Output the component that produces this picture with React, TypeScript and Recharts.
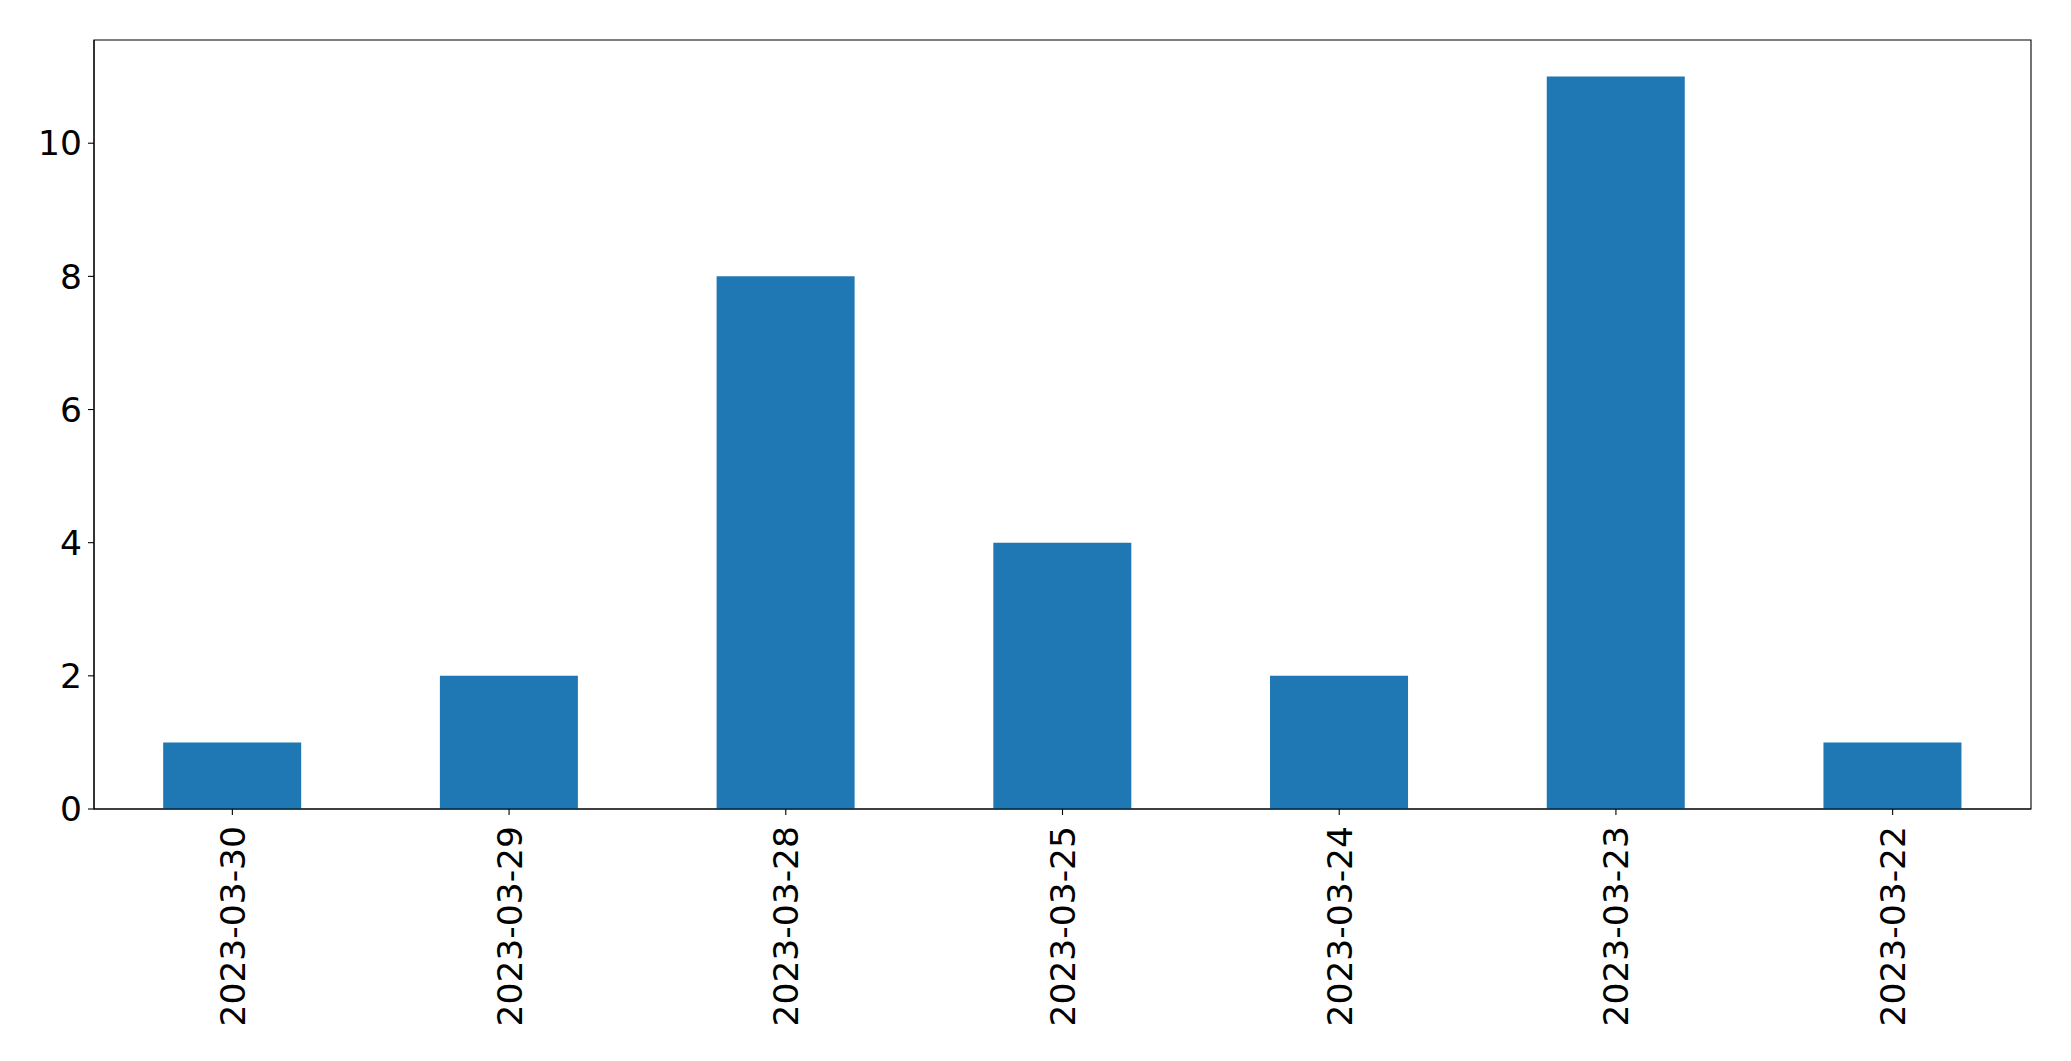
import React from "react";
import { BarChart, Bar, XAxis, YAxis, ReferenceArea } from "recharts";

// ─── Data ─────────────────────────────────────────────────────────────────────

const dates = [
  "2023-03-30",
  "2023-03-29",
  "2023-03-28",
  "2023-03-25",
  "2023-03-24",
  "2023-03-23",
  "2023-03-22",
];
const counts = [1, 2, 8, 4, 2, 11, 1];
const yTicks = [0, 2, 4, 6, 8, 10];
const yMax = 11.55;

const data = dates.map((d, i) => ({ date: d, count: counts[i] }));

const FONT = "'DejaVu Sans', sans-serif";
const FS = 34.5;

// ─── Rotated date tick ────────────────────────────────────────────────────────

function DateTick({ x, y, payload }: any) {
  return (
    <g transform={`translate(${x + 12.5},${y + 9}) rotate(-90)`}>
      <text x={0} y={0} textAnchor="end" fill="#000" fontSize={FS} fontFamily={FONT}>
        {payload.value}
      </text>
    </g>
  );
}

export default function App() {
  return (
    <div style={{ position: "absolute", left: 0, top: 0, background: "#fff" }}>
      <BarChart
        width={2071}
        height={1061}
        data={data}
        margin={{ top: 40, right: 40, left: 0, bottom: 0 }}
        barCategoryGap="25%"
      >
        <XAxis
          dataKey="date"
          height={252}
          interval={0}
          stroke="#000"
          tickSize={6}
          tickMargin={2}
          axisLine={{ stroke: "#000", strokeWidth: 1.1 }}
          tickLine={{ stroke: "#000", strokeWidth: 1.1 }}
          tick={<DateTick />}
        />
        <YAxis
          width={94}
          domain={[0, yMax]}
          ticks={yTicks}
          allowDataOverflow
          stroke="#000"
          tickSize={6}
          tickMargin={6}
          axisLine={{ stroke: "#000", strokeWidth: 1.1 }}
          tickLine={{ stroke: "#000", strokeWidth: 1.1 }}
          tick={{ fill: "#000", fontSize: FS, fontFamily: FONT }}
        />
        <Bar dataKey="count" fill="#1f77b4" isAnimationActive={false} />
        <ReferenceArea
          y1={0}
          y2={yMax}
          fill="none"
          fillOpacity={0}
          stroke="#000"
          strokeWidth={1.1}
          ifOverflow="visible"
        />
      </BarChart>
    </div>
  );
}
